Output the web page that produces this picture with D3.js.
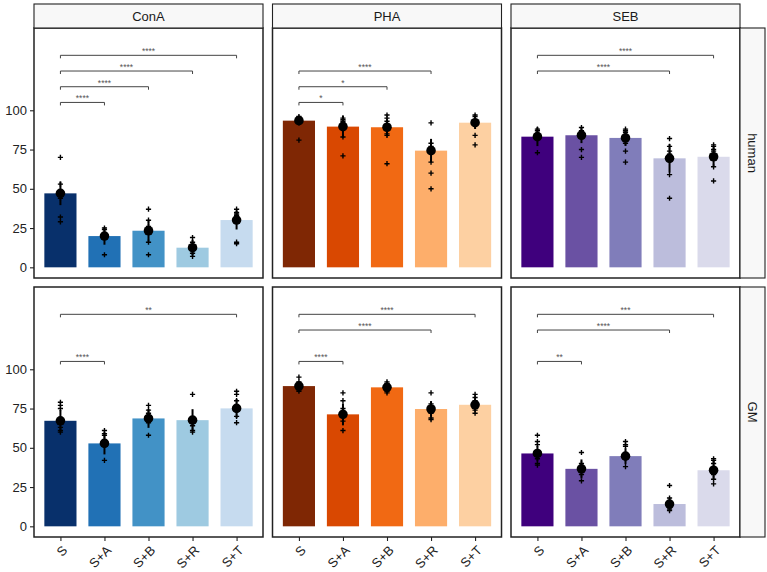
<!DOCTYPE html>
<html>
<head>
<meta charset="utf-8">
<script src="https://cdn.jsdelivr.net/npm/d3@7"></script>
<style>
  body { margin: 0; background: #fff; }
  svg { font-family: "Liberation Sans", Arial, sans-serif; }
</style>
</head>
<body>
<svg id="chart" width="767" height="572"></svg>
<script>
// facets and groups
const stimuli = ["ConA", "PHA", "SEB"]
const sources = ["human", "GM"]
const treatments = ["S", "S+A", "S+B", "S+R", "S+T"]

// bar heights (mean) per stimulus, one row per stimulus
const meanHuman = [
    [47.1, 19.9, 23.3, 12.5, 30.1],
    [93.4, 89.6, 89.2, 74.3, 92.1],
    [83.2, 84.1, 82.4, 69.4, 70.4]
]
const errHuman = [
    [7.5, 5.5, 7, 5, 6],
    [3, 7, 5, 7.5, 4],
    [6, 5, 5, 9, 6]
]
const meanGM = [
    [67.2, 52.8, 68.7, 67.6, 75.1],
    [89.3, 71.3, 88.5, 74.7, 77.4],
    [46.4, 36.6, 44.7, 14.2, 35.7]
]
const errGM = [
    [7, 7, 6, 7, 6],
    [3, 7, 3, 5, 4],
    [5, 6, 5, 4, 6]
]

// single donors
const ptsHuman = [
    [[70, 53, 48, 44, 32, 29], [25, 24, 22, 20, 8], [37, 30, 26, 24, 16, 8], [19, 16, 12, 9, 7], [37, 35, 34, 33, 30, 16, 15]],
    [[96, 95, 94, 94, 81], [95, 94, 93, 92, 83, 71], [97, 95, 93, 90, 85, 84, 66], [92, 79, 77, 76, 67, 60, 50], [97, 96, 94, 93, 84, 78]],
    [[88, 87, 85, 84, 83, 73], [89, 87, 86, 85, 75, 70], [88, 87, 86, 84, 79, 74, 67], [82, 77, 74, 72, 59, 44], [78, 77, 75, 74, 64, 55]]
]
const ptsGM = [
    [[79, 77, 75, 67, 63, 61, 60], [61, 59, 58, 55, 52, 42], [77, 74, 72, 70, 66, 58], [84, 68, 66, 64, 61, 60], [86, 84, 80, 75, 70, 66]],
    [[95, 92, 90, 89, 87, 86], [85, 80, 75, 70, 67, 61], [92, 91, 89, 88, 86, 85], [85, 78, 76, 74, 72, 69, 68], [84, 82, 80, 77, 74, 72]],
    [[58, 54, 52, 46, 43, 40, 39], [47, 40, 38, 36, 33, 29], [54, 52, 51, 46, 43, 38], [26, 18, 15, 13, 11, 10], [43, 42, 40, 37, 33, 30, 27]]
]

// comparisons vs S (S+A, S+B, S+R, S+T)
const bracketY = [105, 115, 125, 135]
const sigHuman = [
    ["****", "****", "****", "****"],
    ["*", "*", "****", ""],
    ["", "", "****", "****"]
]
const sigGM = [
    ["****", "", "", "**"],
    ["****", "", "****", "****"],
    ["**", "", "****", "***"]
]

const yTicks = [0, 25, 50, 75, 100]

const palettes = [
    ["#08306b", "#2171b5", "#4292c6", "#9ecae1", "#c6dbef"],
    ["#7f2704", "#d94801", "#f16913", "#fdae6b", "#fdd0a2"],
    ["#3f007d", "#6a51a3", "#807dba", "#bcbddc", "#dadaeb"]
]

const rowData = [
    { mean: meanHuman, err: errHuman, pts: ptsHuman, sig: sigHuman },
    { mean: meanGM, err: errGM, pts: ptsGM, sig: sigGM }
]

// layout
const colX = [34, 272.5, 511]
const rowY = [28, 287]
const panelW = 229, panelH = 250
const stripH = 24, stripW = 25

const svg = d3.select("#chart")

const x = d3.scalePoint().domain(treatments).range([0, panelW]).padding(0.6)
const barW = x.step() * 0.73
const y = d3.scaleLinear().domain([-6.8, 152.4]).range([panelH, 0])

const plus = "M-2.6,0H2.6M0,-2.6V2.6"

sources.forEach((src, r) => {
    const rd = rowData[r]
    stimuli.forEach((stim, c) => {
        const g = svg.append("g")
            .attr("transform", `translate(${colX[c]},${rowY[r]})`)

        g.append("rect")
            .attr("width", panelW).attr("height", panelH)
            .attr("fill", "#fff")

        // bars
        g.selectAll(".bar")
            .data(treatments)
            .join("rect")
            .attr("class", "bar")
            .attr("x", d => x(d) - barW / 2)
            .attr("width", barW)
            .attr("y", (d, i) => y(rd.mean[c][i]))
            .attr("height", (d, i) => y(0) - y(rd.mean[c][i]))
            .attr("fill", (d, i) => palettes[c][i])

        // donors
        treatments.forEach((t, i) => {
            g.selectAll(null)
                .data(rd.pts[c][i])
                .join("path")
                .attr("d", plus)
                .attr("transform", v => `translate(${x(t)},${y(v)})`)
                .attr("stroke", "#000")
                .attr("stroke-width", 1.4)
                .attr("fill", "none")
        })

        // error bars
        g.selectAll(".err")
            .data(treatments)
            .join("line")
            .attr("class", "err")
            .attr("x1", d => x(d)).attr("x2", d => x(d))
            .attr("y1", (d, i) => y(rd.mean[c][i] - rd.err[c][i]))
            .attr("y2", (d, i) => y(rd.mean[c][i] + rd.err[c][i]))
            .attr("stroke", "#000")
            .attr("stroke-width", 2)

        // mean dots
        g.selectAll(".dot")
            .data(treatments)
            .join("circle")
            .attr("class", "dot")
            .attr("cx", d => x(d))
            .attr("cy", (d, i) => y(rd.mean[c][i]))
            .attr("r", 4.8)
            .attr("fill", "#000")

        // significance brackets
        rd.sig[c].forEach((lab, k) => {
            if (!lab) return
            const x1 = x(treatments[0]), x2 = x(treatments[k + 1])
            const yy = y(bracketY[k])
            g.append("path")
                .attr("d", `M${x1},${yy + 3}V${yy}H${x2}V${yy + 3}`)
                .attr("fill", "none")
                .attr("stroke", "#444")
                .attr("stroke-width", 1)
            g.append("text")
                .attr("x", (x1 + x2) / 2)
                .attr("y", yy - 1.2)
                .attr("text-anchor", "middle")
                .attr("font-size", 8.5)
                .attr("fill", "#555")
                .text(lab)
        })

        g.append("rect")
            .attr("width", panelW).attr("height", panelH)
            .attr("fill", "none")
            .attr("stroke", "#222")
            .attr("stroke-width", 1.5)

        // y axis on first column
        if (c == 0) {
            const ax = g.append("g")
                .call(d3.axisLeft(y).tickValues(yTicks).tickSize(4).tickPadding(3))
            ax.select(".domain").remove()
            ax.selectAll("line").attr("stroke", "#222").attr("stroke-width", 1.1)
            ax.selectAll("text").attr("font-size", 13).attr("fill", "#222")
                .attr("font-family", "Liberation Sans, Arial, sans-serif")
        }

        // x axis on bottom row
        if (r == sources.length - 1) {
            const ax = g.append("g")
                .attr("transform", `translate(0,${panelH})`)
                .call(d3.axisBottom(x).tickSize(4))
            ax.select(".domain").remove()
            ax.selectAll("line").attr("stroke", "#222").attr("stroke-width", 1.1)
            ax.selectAll("text")
                .attr("font-size", 13).attr("fill", "#222")
                .attr("font-family", "Liberation Sans, Arial, sans-serif")
                .attr("x", 0).attr("y", 0).attr("dy", "0.35em")
                .attr("text-anchor", "end")
                .attr("transform", "translate(4,11) rotate(-45)")
        }

        // top strips
        if (r == 0) {
            const s = svg.append("g")
                .attr("transform", `translate(${colX[c]},${rowY[0] - stripH})`)
            s.append("rect")
                .attr("width", panelW).attr("height", stripH)
                .attr("fill", "#f8f8f8")
                .attr("stroke", "#222").attr("stroke-width", 1.1)
            s.append("text")
                .attr("x", panelW / 2).attr("y", stripH / 2)
                .attr("dy", "0.35em")
                .attr("text-anchor", "middle")
                .attr("font-size", 13).attr("fill", "#1a1a1a")
                .text(stim)
        }
    })

    // right strips
    const sx = colX[2] + panelW
    const s = svg.append("g")
        .attr("transform", `translate(${sx},${rowY[r]})`)
    s.append("rect")
        .attr("width", stripW).attr("height", panelH)
        .attr("fill", "#f8f8f8")
        .attr("stroke", "#222").attr("stroke-width", 1.1)
    s.append("text")
        .attr("transform", `translate(${stripW / 2},${panelH / 2}) rotate(90)`)
        .attr("dy", "0.35em")
        .attr("text-anchor", "middle")
        .attr("font-size", 13).attr("fill", "#1a1a1a")
        .text(src)
})
</script>
</body>
</html>
